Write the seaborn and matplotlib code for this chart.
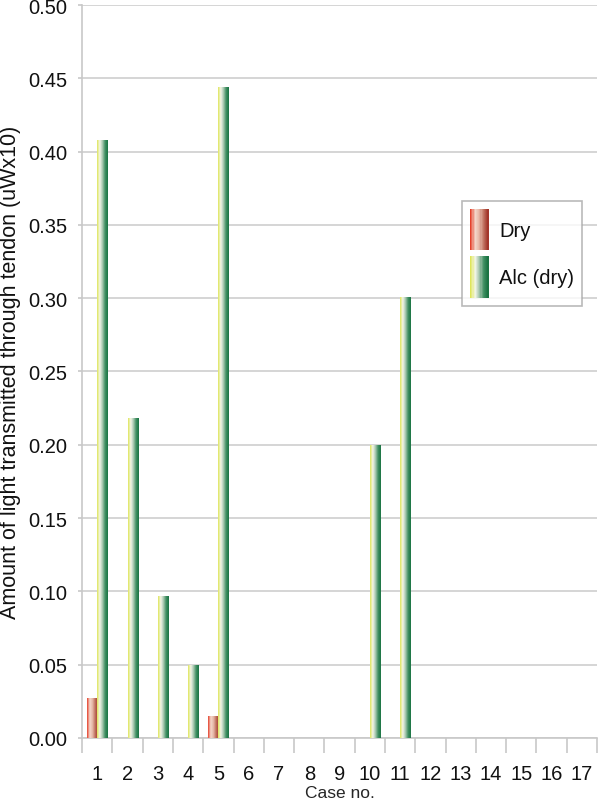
import numpy as np
import pandas as pd
import matplotlib
matplotlib.use("Agg")
import matplotlib.pyplot as plt
from matplotlib.colors import LinearSegmentedColormap
from matplotlib.patches import Rectangle
from matplotlib.legend_handler import HandlerBase
import seaborn as sns

cases = [str(i) for i in range(1, 18)]
dry = [0.027, 0, 0, 0, 0.015, 0, 0, 0, 0, 0, 0, 0, 0, 0, 0, 0, 0]
alc = [0.408, 0.218, 0.097, 0.050, 0.444, 0, 0, 0, 0, 0.200, 0.301, 0, 0, 0, 0, 0, 0]
series = ["Dry", "Alc (dry)"]

df = pd.DataFrame({
    "case": cases * 2,
    "value": dry + alc,
    "series": [series[0]] * len(cases) + [series[1]] * len(cases),
})

sns.set_style("white")
plt.rcParams["font.family"] = ["Liberation Sans", "DejaVu Sans"]

# horizontal gradients used for bar faces
grad_colors = {
    "Dry": ["#e5402c", "#f4d8cc", "#e6b8a8", "#c0705e", "#a3362a"],
    "Alc (dry)": ["#dfe65a", "#f4f6ea", "#a9c8b0", "#3f8f62", "#1b7443"],
}
cmaps = {k: LinearSegmentedColormap.from_list(k, v) for k, v in grad_colors.items()}

fig = plt.figure(figsize=(6, 8.04), dpi=100)
ax = fig.add_axes([0.137, 0.081, 0.858, 0.9115])

sns.barplot(data=df, x="case", y="value", hue="series", hue_order=series,
            palette=["#c0604e", "#3f8f62"], width=0.7, ax=ax, legend=False)

grad = np.linspace(0, 1, 64).reshape(1, -1)
n = len(cases)
for i, p in enumerate(ax.patches[:2 * n]):
    key = series[i // n]
    h = p.get_height()
    if h <= 0:
        p.set_visible(False)
        continue
    x0 = p.get_x()
    w = p.get_width()
    im = ax.imshow(grad, cmap=cmaps[key], aspect="auto",
                   extent=(x0, x0 + w, 0, h), zorder=3, interpolation="bilinear")
    im.set_clip_path(p)
    p.set_facecolor("none")
    p.set_edgecolor("none")

ax.set_xlim(-0.5, n - 0.5)
ax.set_ylim(0, 0.5)
ax.set_yticks(np.arange(0, 0.51, 0.05))
ax.set_yticklabels([f"{v:.2f}" for v in np.arange(0, 0.51, 0.05)], fontsize=14.5)
ax.yaxis.grid(True, color="#d2d2d2", linewidth=1.3)
ax.set_axisbelow(True)

ax.set_xticks(range(n))
ax.set_xticklabels(cases, fontsize=14.5)
ax.set_xticks(np.arange(-0.5, n, 1), minor=True)
ax.tick_params(axis="x", which="major", bottom=True, length=0, pad=19, colors="#111111")
ax.tick_params(axis="x", which="minor", bottom=True, length=11, width=1.2, color="#c8c8c8")
ax.tick_params(axis="y", which="major", left=True, length=3, width=1.2, pad=8, labelcolor="#111111")
ax.tick_params(axis="y", color="#c8c8c8")

for s in ["top", "right"]:
    ax.spines[s].set_visible(False)
for s in ["left", "bottom"]:
    ax.spines[s].set_color("#c8c8c8")
    ax.spines[s].set_linewidth(1.2)

ax.set_xlabel("Case no.", fontsize=12.5, labelpad=1)
ax.set_ylabel("Amount of light transmitted through tendon (uWx10)", fontsize=15.5,
              labelpad=5, color="#111111")


class GradientHandler(HandlerBase):
    def __init__(self, cmap):
        super().__init__()
        self.cmap = cmap

    def create_artists(self, legend, orig_handle, xdescent, ydescent,
                       width, height, fontsize, trans):
        steps = 16
        arts = []
        for k in range(steps):
            r = Rectangle((-xdescent + width * k / steps, -ydescent),
                          width / steps + 0.3, height,
                          facecolor=self.cmap(k / (steps - 1)), edgecolor="none",
                          transform=trans)
            arts.append(r)
        return arts


h_dry = Rectangle((0, 0), 1, 1)
h_alc = Rectangle((0, 0), 1, 1)
leg = ax.legend([h_dry, h_alc], series,
                handler_map={h_dry: GradientHandler(cmaps["Dry"]),
                             h_alc: GradientHandler(cmaps["Alc (dry)"])},
                loc="upper left", bbox_to_anchor=(0.738, 0.733),
                fontsize=14.5, handlelength=0.9, handleheight=2.8,
                handletextpad=0.55, labelspacing=0.3, borderpad=0.4,
                borderaxespad=0, frameon=True, fancybox=False, edgecolor="#a8a8a8")
leg.get_frame().set_linewidth(1.2)
for t in leg.get_texts():
    t.set_color("#111111")

fig.savefig("out.png", dpi=100)
